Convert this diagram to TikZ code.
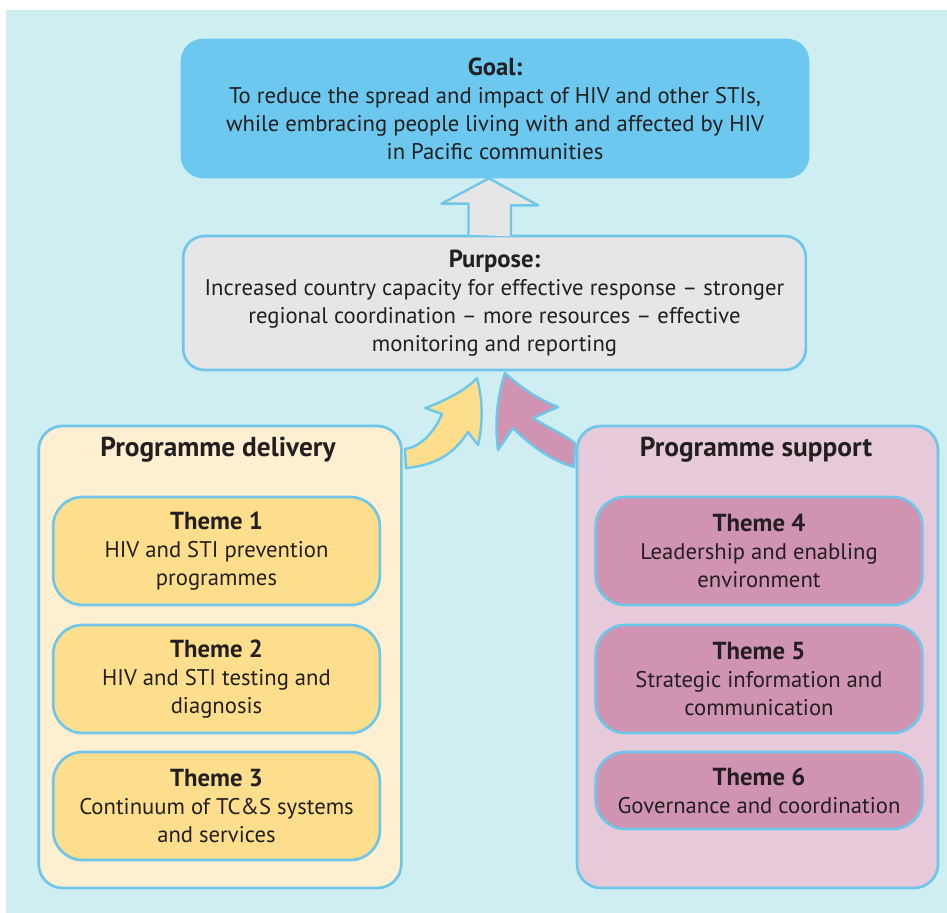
\documentclass[tikz,border=0pt]{standalone}
\usepackage{fontspec}
\setmainfont{PT Sans}
\usetikzlibrary{calc}
\definecolor{bgcyan}{RGB}{206,238,242}
\definecolor{edgeblue}{RGB}{110,198,234}
\definecolor{goalblue}{RGB}{108,200,238}
\definecolor{purposegrey}{RGB}{230,230,230}
\definecolor{cream}{RGB}{253,239,207}
\definecolor{themeyellow}{RGB}{253,222,140}
\definecolor{palepink}{RGB}{230,202,218}
\definecolor{themepink}{RGB}{208,148,178}
\definecolor{inkdark}{RGB}{35,31,32}
\newcommand{\hd}[1]{{\fontsize{18.5}{21}\bfseries\selectfont #1}}
\tikzset{
  txt/.style={font=\fontsize{17}{21}\selectfont, text=inkdark, align=center},
  goalbox/.style={txt, fill=goalblue, draw=goalblue, line width=2pt, rounded corners=16pt,
    minimum width=469.5pt, minimum height=102.75pt, inner sep=0pt},
  purposebox/.style={txt, fill=purposegrey, draw=edgeblue, line width=2pt, rounded corners=16pt,
    minimum width=467pt, minimum height=100.5pt, inner sep=0pt},
  groupbox/.style={draw=edgeblue, line width=2pt, rounded corners=18pt,
    minimum width=272pt, minimum height=346.5pt, inner sep=0pt},
  grouptitle/.style={font=\fontsize{20.5}{24}\bfseries\selectfont, text=inkdark},
  themebox/.style={txt, draw=edgeblue, line width=2pt, rounded corners=22pt,
    minimum width=245pt, inner sep=0pt},
  fatarrow/.style={draw=edgeblue, line width=1.8pt, line join=round}
}
\begin{document}
\begin{tikzpicture}[x=0.75pt,y=-0.75pt]
\useasboundingbox (0,0) rectangle (947,913);
\fill[white] (0,0) rectangle (947,913);
\fill[bgcyan] (6,10) rectangle (947,913);
\node[goalbox] (goal) at (495,108.5){\hd{Goal:}\\To reduce the spread and impact of HIV and other STIs,\\while embracing people living with and affected by HIV\\in Pacific communities};
\node[purposebox] (purpose) at (494.5,303){\hd{Purpose:}\\Increased country capacity for effective response -- stronger\\regional coordination -- more resources -- effective\\monitoring and reporting};
\draw[fatarrow, fill=purposegrey] ($(purpose.north)+(-26,0)$) -- ++(0,-31) -- ++(-27,0) -- (goal.south -| 489,0) -- ++(49,27) -- ++(-27,0) -- ++(0,31);
\draw[fatarrow, fill=themeyellow] (405,449) .. controls (420,447) and (434,433) .. (442,414)
  -- (425,408) .. controls (445,401) and (466,390) .. (477,378)
  .. controls (483,400) and (483,425) .. (478,445) -- (468,432)
  .. controls (455,452) and (438,465) .. (406,468) -- cycle;
\draw[fatarrow, fill=themepink] (575,443) .. controls (560,432) and (545,426) .. (533,418)
  -- (558,407) .. controls (535,398) and (518,385) .. (505,373)
  .. controls (496,400) and (495,425) .. (498,450) -- (513,428)
  .. controls (530,445) and (550,460) .. (574,467) -- cycle;
\node[groupbox, fill=cream] (delivery) at (220,657){};
\node[groupbox, fill=palepink, minimum width=270.75pt] (support) at (757.5,657){};
\node[grouptitle] (deliverytitle) at (218,450){Programme delivery};
\node[grouptitle] (supporttitle) at (756,450){Programme support};
\node[themebox, fill=themeyellow, minimum height=81pt] (theme1) at (216.5,551){\hd{Theme 1}\\HIV and STI prevention\\programmes};
\node[themebox, fill=themeyellow, minimum height=81pt] (theme2) at (216.5,679){\hd{Theme 2}\\HIV and STI testing and\\diagnosis};
\node[themebox, fill=themeyellow, minimum height=81pt] (theme3) at (216.5,806){\hd{Theme 3}\\Continuum of TC\&S systems\\and services};
\node[themebox, fill=themepink, minimum height=81pt] (theme4) at (759,551){\hd{Theme 4}\\Leadership and enabling\\environment};
\node[themebox, fill=themepink, minimum height=81pt] (theme5) at (759,679){\hd{Theme 5}\\Strategic information and\\communication};
\node[themebox, fill=themepink, minimum height=57.75pt] (theme6) at (759,790.5){\hd{Theme 6}\\Governance and coordination};
\end{tikzpicture}
\end{document}
